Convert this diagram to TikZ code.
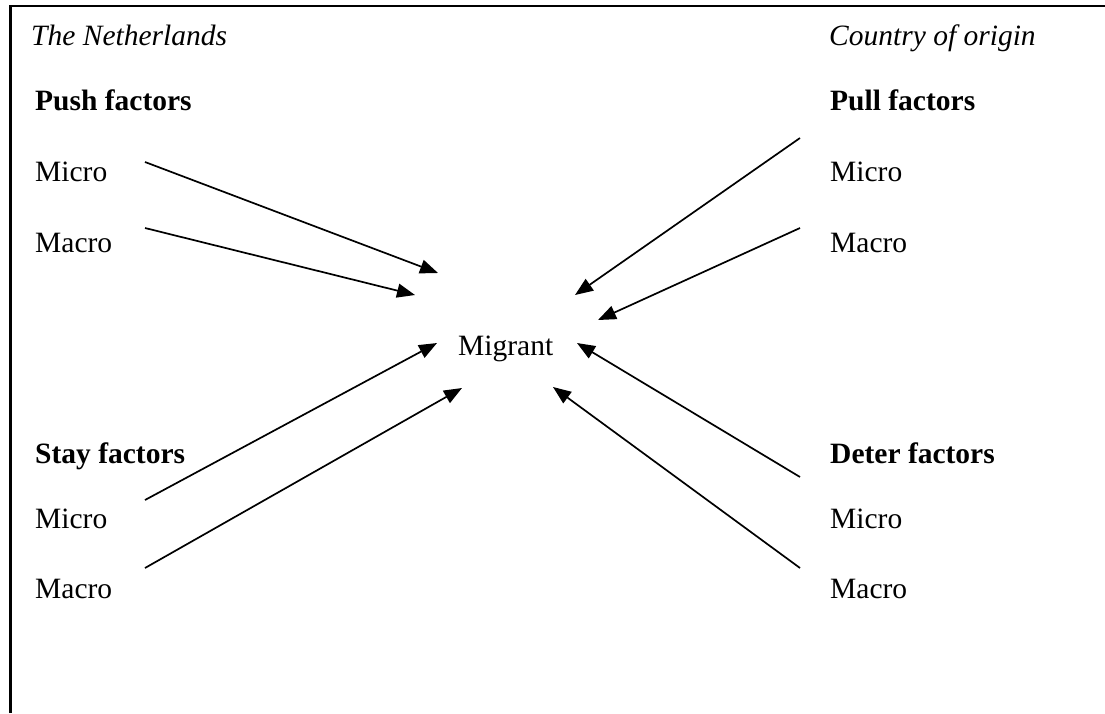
\documentclass[tikz,border=0pt]{standalone}
\usepackage{fontspec}
\setmainfont{Liberation Serif}
\usetikzlibrary{arrows.meta}
\begin{document}
\begin{tikzpicture}[x=1pt,y=-1pt,
  lbl/.style={anchor=base west,inner sep=0pt,font=\fontsize{29.5}{34}\selectfont},
  head/.style={lbl,font=\fontsize{29.5}{34}\selectfont\bfseries},
  place/.style={lbl,font=\fontsize{29.5}{34}\selectfont\itshape},
  arr/.style={line width=1.7pt,-{Triangle[length=18pt,width=14pt]}},
  frame/.style={line width=2.2pt}]
\useasboundingbox (0,0) rectangle (1105,713);
\draw[frame] (10.5,713) -- (10.5,6) -- (1105,6);
% texts
\node[place] (nl) at (31,45) {The Netherlands};
\node[place] (co) at (829,45) {Country of origin};
\node[head] (push) at (35,110) {Push factors};
\node[head] (pull) at (830,110) {Pull factors};
\node[lbl] (pushmi) at (35,181) {Micro};
\node[lbl] (pushma) at (35,252) {Macro};
\node[lbl] (pullmi) at (830,181) {Micro};
\node[lbl] (pullma) at (830,252) {Macro};
\node[lbl] (mig) at (458,355) {Migrant};
\node[head] (stay) at (35,463) {Stay factors};
\node[head] (deter) at (830,463) {Deter factors};
\node[lbl] (staymi) at (35,528) {Micro};
\node[lbl] (stayma) at (35,598) {Macro};
\node[lbl] (determi) at (830,528) {Micro};
\node[lbl] (determa) at (830,598) {Macro};
% arrow ends
\coordinate (a1s) at (145,162); \coordinate (a1e) at (438,273);
\coordinate (a2s) at (145,228); \coordinate (a2e) at (415,295);
\coordinate (a3s) at (800,138); \coordinate (a3e) at (575,295);
\coordinate (a4s) at (800,228); \coordinate (a4e) at (598,320);
\coordinate (a5s) at (145,500); \coordinate (a5e) at (437,343);
\coordinate (a6s) at (145,568); \coordinate (a6e) at (462,388);
\coordinate (a7s) at (800,477); \coordinate (a7e) at (577,343);
\coordinate (a8s) at (800,568); \coordinate (a8e) at (553,387);
\draw[arr] (a1s) -- (a1e);
\draw[arr] (a2s) -- (a2e);
\draw[arr] (a3s) -- (a3e);
\draw[arr] (a4s) -- (a4e);
\draw[arr] (a5s) -- (a5e);
\draw[arr] (a6s) -- (a6e);
\draw[arr] (a7s) -- (a7e);
\draw[arr] (a8s) -- (a8e);
\end{tikzpicture}
\end{document}
